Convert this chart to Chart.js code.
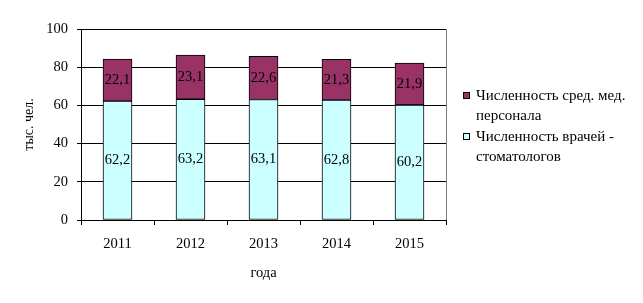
<!DOCTYPE html>
<html>
<head>
<meta charset="utf-8">
<script src="https://cdn.jsdelivr.net/npm/chart.js@4/dist/chart.umd.min.js"></script>
<style>
  body { margin: 0; background: #fff; }
  #wrap { position: relative; width: 643px; height: 303px; }
  #legend {
    position: absolute; left: 463px; top: 85px;
    font-family: "Liberation Serif", "Times New Roman", serif;
    font-size: 15px; line-height: 20px; color: #000;
  }
  #legend .item { position: relative; padding-left: 13px; margin-bottom: 1px; }
  #legend .box {
    position: absolute; left: 0; top: 7px; width: 5px; height: 5px;
    border: 1px solid #000;
  }
</style>
</head>
<body>
<div id="wrap">
  <canvas id="myChart" width="643" height="303"></canvas>
  <div id="legend"></div>
</div>
<script>
var years = ["2011", "2012", "2013", "2014", "2015"];
var dentists = [62.2, 63.2, 63.1, 62.8, 60.2];
var nurses = [22.1, 23.1, 22.6, 21.3, 21.9];
var dentistsName = ["Численность врачей -", "стоматологов"];
var nursesName = ["Численность сред. мед.", "персонала"];
var yTitle = "тыс. чел.";
var xTitle = "года";

var serif = "'Liberation Serif', 'Times New Roman', serif";

function fmt(v) {
  return v.toFixed(1).replace(".", ",");
}

// values written in the middle of each segment
var valueLabels = {
  id: "valueLabels",
  afterDatasetsDraw: function (chart) {
    var ctx = chart.ctx;
    ctx.save();
    ctx.font = "14.5px " + serif;
    ctx.fillStyle = "#000";
    ctx.textAlign = "center";
    ctx.textBaseline = "middle";
    chart.data.datasets.forEach(function (ds, i) {
      chart.getDatasetMeta(i).data.forEach(function (bar, j) {
        ctx.fillText(fmt(ds.data[j]), bar.x, (bar.y + bar.base) / 2);
      });
    });
    ctx.restore();
  },
};

// grey frame round the plot area
var plotFrame = {
  id: "plotFrame",
  beforeDraw: function (chart) {
    var a = chart.chartArea;
    var ctx = chart.ctx;
    ctx.save();
    ctx.strokeStyle = "#808080";
    ctx.lineWidth = 1;
    ctx.strokeRect(Math.round(a.left) + 0.5, Math.round(a.top) + 0.5,
      Math.round(a.right - a.left), Math.round(a.bottom - a.top));
    ctx.restore();
  },
};

var ctx = document.getElementById("myChart").getContext("2d");
var chart = new Chart(ctx, {
  type: "bar",
  data: {
    labels: years,
    datasets: [
      {
        label: dentistsName,
        data: dentists,
        backgroundColor: "#CCFFFF",
        borderColor: "#000",
        borderWidth: 1,
        borderSkipped: false,
        barThickness: 29,
      },
      {
        label: nursesName,
        data: nurses,
        backgroundColor: "#993366",
        borderColor: "#000",
        borderWidth: 1,
        borderSkipped: false,
        barThickness: 29,
      },
    ],
  },
  options: {
    responsive: false,
    animation: false,
    layout: { padding: { top: 29, right: 197, left: 0, bottom: 0 } },
    plugins: {
      legend: { display: false },
      tooltip: { enabled: false },
    },
    scales: {
      x: {
        stacked: true,
        afterFit: function (s) { s.height = 83; },
        grid: {
          offset: true,
          drawOnChartArea: false,
          drawTicks: true,
          tickLength: 5,
          color: "#000",
        },
        border: { color: "#000" },
        ticks: {
          color: "#000",
          padding: 10,
          font: { family: serif, size: 14.5 },
        },
        title: {
          display: true,
          text: xTitle,
          color: "#000",
          font: { family: serif, size: 14.5 },
          padding: { top: 0, bottom: 21 },
        },
      },
      y: {
        stacked: true,
        min: 0,
        max: 100,
        afterFit: function (s) { s.width = 81; },
        ticks: {
          stepSize: 20,
          color: "#000",
          padding: 9,
          font: { family: serif, size: 14.5 },
        },
        grid: { color: "#000", tickLength: 4 },
        border: { color: "#000" },
        title: {
          display: true,
          text: yTitle,
          color: "#000",
          font: { family: serif, size: 14 },
          padding: { top: 21, bottom: 0 },
        },
      },
    },
  },
  plugins: [plotFrame, valueLabels],
});

// legend, top series first
var legend = document.getElementById("legend");
chart.data.datasets.slice().reverse().forEach(function (ds) {
  var item = document.createElement("div");
  item.className = "item";
  var box = document.createElement("span");
  box.className = "box";
  box.style.background = ds.backgroundColor;
  item.appendChild(box);
  ds.label.forEach(function (line, k) {
    if (k > 0) item.appendChild(document.createElement("br"));
    item.appendChild(document.createTextNode(line));
  });
  legend.appendChild(item);
});
</script>
</body>
</html>
